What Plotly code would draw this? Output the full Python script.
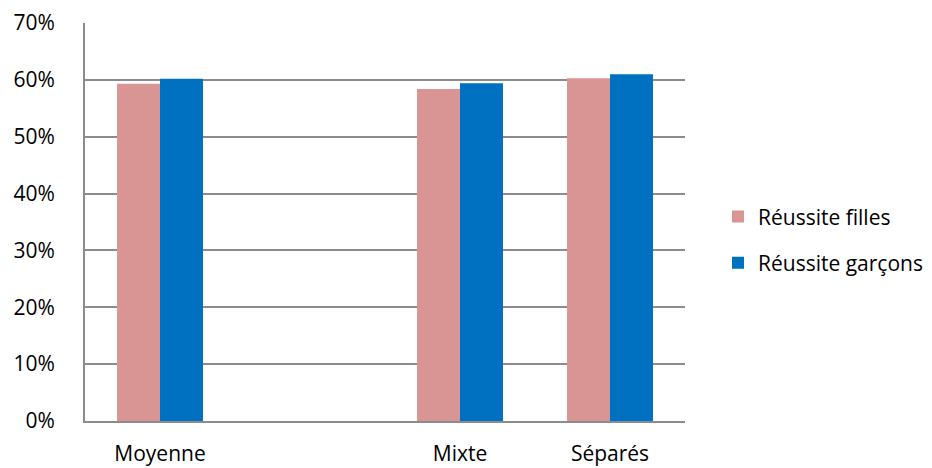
import plotly.graph_objects as go

categories = ["Moyenne", " ", "Mixte", "Séparés"]
filles = [0.593, None, 0.584, 0.603]
garcons = [0.602, None, 0.594, 0.610]
series_names = ["Réussite filles", "Réussite garçons"]
colors = ["#D99594", "#0070C0"]

font_family = "'Open Sans', sans-serif"

fig = go.Figure()
for name, vals, col in zip(series_names, [filles, garcons], colors):
    fig.add_trace(go.Bar(
        x=categories, y=vals, name=name, marker_color=col,
        marker_line_width=0, legendgroup=name,
    ))

fig.update_layout(
    width=932, height=468,
    margin=dict(l=85, r=247, t=23, b=47, autoexpand=False),
    plot_bgcolor="white", paper_bgcolor="white",
    barmode="group", bargap=0.427, bargroupgap=0,
    font=dict(family=font_family, size=21, color="#000000"),
    legend=dict(
        x=1.055, y=0.455, xanchor="left", yanchor="middle",
        font=dict(size=21), tracegroupgap=16,
        itemwidth=30,
    ),
    showlegend=True,
)
fig.update_xaxes(
    type="category", categoryorder="array", categoryarray=categories,
    showline=True, linecolor="#8C8C8C", linewidth=2,
    ticks="", showgrid=False, ticklabelstandoff=13, automargin=False,
)
fig.update_yaxes(
    range=[0, 0.7], dtick=0.1, tickformat=".0%",
    showgrid=True, gridcolor="#8C8C8C", gridwidth=1.5,
    showline=True, linecolor="#8C8C8C", linewidth=2,
    ticks="", ticklabelstandoff=24, zeroline=False, automargin=False,
)

fig.write_html("out.html")
